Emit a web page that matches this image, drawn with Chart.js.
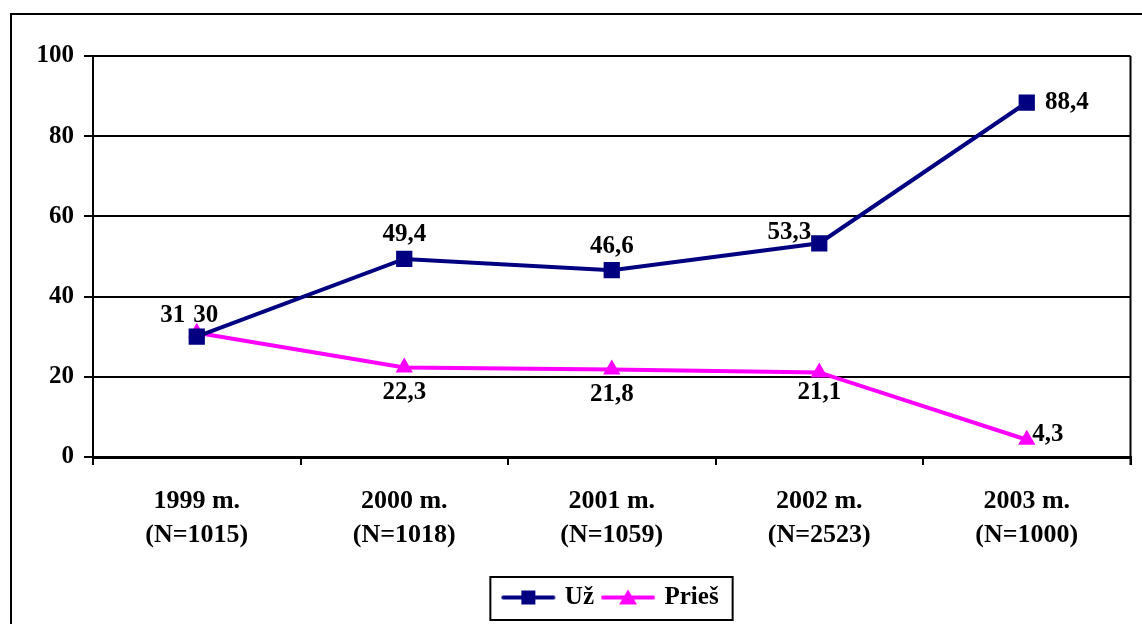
<!DOCTYPE html>
<html>
<head>
<meta charset="utf-8">
<script src="https://cdn.jsdelivr.net/npm/chart.js@4/dist/chart.umd.min.js"></script>
<style>
  html, body { margin: 0; padding: 0; background: #fff; }
  #wrap { width: 1142px; height: 624px; }
</style>
</head>
<body>
<div id="wrap"><canvas id="chart"></canvas></div>
<script>
const years = [['1999 m.', '(N=1015)'], ['2000 m.', '(N=1018)'], ['2001 m.', '(N=1059)'], ['2002 m.', '(N=2523)'], ['2003 m.', '(N=1000)']]
const uzValues = [30, 49.4, 46.6, 53.3, 88.4]
const priesValues = [31, 22.3, 21.8, 21.1, 4.3]
const yTicks = [0, 20, 40, 60, 80, 100]

const FONT = '"Liberation Serif", "Times New Roman", serif'
const FSIZE = 25
const LEGEND_SHIFT = 42

// label offsets per point (style, not data)
const labelOffsets = [
    [[9, -21], [0, -24], [0, -24], [-30, -11], [40, 0]],
    [[-24, -17], [0, 25], [0, 25], [0, 20], [21, -5]]
]

function legendIcon(color, shape) {
    const c = document.createElement('canvas')
    c.width = 56
    c.height = 20
    const g = c.getContext('2d')
    g.strokeStyle = color
    g.lineWidth = 4
    g.lineCap = 'round'
    g.beginPath()
    g.moveTo(3, 10)
    g.lineTo(53, 10)
    g.stroke()
    g.fillStyle = color
    if (shape === 'rect') {
        g.fillRect(21, 3, 14, 14)
    } else {
        g.beginPath()
        g.moveTo(28, 2)
        g.lineTo(37, 17)
        g.lineTo(19, 17)
        g.closePath()
        g.fill()
    }
    return c
}

const fmt = v => String(v).replace('.', ',')

const labelPlugin = {
    id: 'pointLabels',
    afterDatasetsDraw(chart) {
        const ctx = chart.ctx
        ctx.save()
        ctx.font = 'bold ' + FSIZE + 'px ' + FONT
        ctx.fillStyle = '#000'
        ctx.textAlign = 'center'
        ctx.textBaseline = 'middle'
        chart.data.datasets.forEach((ds, di) => {
            const meta = chart.getDatasetMeta(di)
            meta.data.forEach((pt, i) => {
                const off = labelOffsets[di][i]
                ctx.fillText(fmt(ds.data[i]), pt.x + off[0], pt.y + off[1])
            })
        })
        ctx.restore()
    }
}

const framePlugin = {
    id: 'frame',
    afterLayout(chart) {
        chart.legend.left += LEGEND_SHIFT
        chart.legend.right += LEGEND_SHIFT
    },
    beforeDraw(chart) {
        const ctx = chart.ctx
        ctx.save()
        ctx.strokeStyle = '#000'
        ctx.lineWidth = 2
        ctx.strokeRect(11, 14, 1142, 620)
        ctx.restore()
    },
    afterDraw(chart) {
        const ctx = chart.ctx
        const a = chart.chartArea
        const lg = chart.legend
        ctx.save()
        ctx.strokeStyle = '#000'
        ctx.lineWidth = 2
        ctx.beginPath()
        ctx.moveTo(a.right, a.top)
        ctx.lineTo(a.right, a.bottom + 8)
        ctx.stroke()
        const hb = lg.legendHitBoxes
        const x0 = hb[0].left - 14
        const x1 = hb[hb.length - 1].left + hb[hb.length - 1].width + 14
        ctx.strokeRect(x0, 577, x1 - x0, 43)
        ctx.restore()
    }
}

new Chart(document.getElementById('chart'), {
    type: 'line',
    data: {
        labels: years,
        datasets: [
            {
                label: 'Už',
                data: uzValues,
                borderColor: '#000080',
                backgroundColor: '#000080',
                borderWidth: 4,
                pointStyle: 'rect',
                pointRadius: 11.5,
                pointBorderWidth: 0,
                tension: 0
            },
            {
                label: 'Prieš',
                data: priesValues,
                borderColor: '#FF00FF',
                backgroundColor: '#FF00FF',
                borderWidth: 4,
                pointStyle: 'triangle',
                pointRadius: 10,
                pointBorderWidth: 0,
                tension: 0
            }
        ]
    },
    options: {
        responsive: true,
        maintainAspectRatio: false,
        animation: false,
        layout: { padding: { left: 0, top: 56, right: 3, bottom: 4 } },
        plugins: {
            tooltip: { enabled: false },
            legend: {
                position: 'bottom',
                labels: {
                    font: { family: FONT, size: FSIZE, weight: 'bold' },
                    color: '#000',
                    usePointStyle: true,
                    pointStyleWidth: 48,
                    padding: 10,
                    generateLabels(chart) {
                        return [
                            { text: 'Už', pointStyle: legendIcon('#000080', 'rect'), fillStyle: '#000080', strokeStyle: '#000080', lineWidth: 0, datasetIndex: 0 },
                            { text: 'Prieš', pointStyle: legendIcon('#FF00FF', 'tri'), fillStyle: '#FF00FF', strokeStyle: '#FF00FF', lineWidth: 0, datasetIndex: 1 }
                        ]
                    }
                }
            }
        },
        scales: {
            x: {
                offset: true,
                grid: {
                    display: true,
                    offset: true,
                    drawOnChartArea: false,
                    drawTicks: true,
                    tickLength: 8,
                    color: '#000',
                    lineWidth: 2
                },
                border: { display: true, color: '#000', width: 3 },
                ticks: {
                    color: '#000',
                    font: { family: FONT, size: 26, weight: 'bold', lineHeight: 1.28 },
                    padding: 20,
                    maxRotation: 0
                },
                afterFit(scale) { scale.height = 118 }
            },
            y: {
                min: 0,
                max: 100,
                afterBuildTicks(scale) { scale.ticks = yTicks.map(v => ({ value: v })) },
                grid: {
                    color: '#000',
                    lineWidth: 2,
                    tickLength: 9
                },
                border: { display: true, color: '#000', width: 2 },
                ticks: {
                    color: '#000',
                    font: { family: FONT, size: FSIZE, weight: 'bold' },
                    padding: 10
                },
                afterFit(scale) { scale.width = 93 }
            }
        }
    },
    plugins: [labelPlugin, framePlugin]
})
</script>
</body>
</html>
